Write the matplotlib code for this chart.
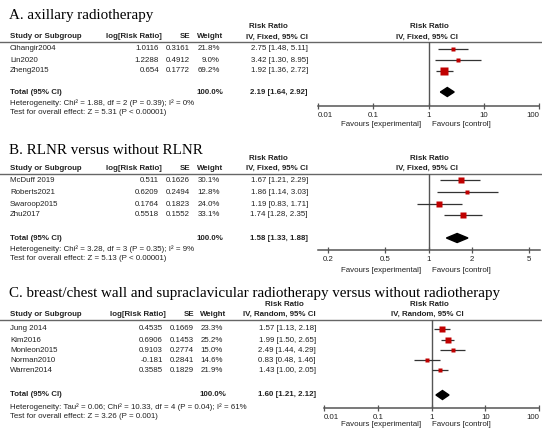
import numpy as np
import matplotlib
matplotlib.use("Agg")
import matplotlib.pyplot as plt
from matplotlib.ticker import NullLocator

# ---- data ----
a_studies = ["Cihangir2004", "Lin2020", "Zheng2015"]
a_logrr = [1.0116, 1.2288, 0.654]
a_se = [0.3161, 0.4912, 0.1772]
a_weight = [21.8, 9.0, 69.2]
a_rr = [2.75, 3.42, 1.92]
a_lo = [1.48, 1.30, 1.36]
a_hi = [5.11, 8.95, 2.72]
a_total = [2.19, 1.64, 2.92]
a_het = "Heterogeneity: Chi² = 1.88, df = 2 (P = 0.39); I² = 0%"
a_test = "Test for overall effect: Z = 5.31 (P < 0.00001)"

b_studies = ["McDuff 2019", "Roberts2021", "Swaroop2015", "Zhu2017"]
b_logrr = [0.511, 0.6209, 0.1764, 0.5518]
b_se = [0.1626, 0.2494, 0.1823, 0.1552]
b_weight = [30.1, 12.8, 24.0, 33.1]
b_rr = [1.67, 1.86, 1.19, 1.74]
b_lo = [1.21, 1.14, 0.83, 1.28]
b_hi = [2.29, 3.03, 1.71, 2.35]
b_total = [1.58, 1.33, 1.88]
b_het = "Heterogeneity: Chi² = 3.28, df = 3 (P = 0.35); I² = 9%"
b_test = "Test for overall effect: Z = 5.13 (P < 0.00001)"

c_studies = ["Jung 2014", "Kim2016", "Monleon2015", "Norman2010", "Warren2014"]
c_logrr = [0.4535, 0.6906, 0.9103, -0.181, 0.3585]
c_se = [0.1669, 0.1453, 0.2774, 0.2841, 0.1829]
c_weight = [23.3, 25.2, 15.0, 14.6, 21.9]
c_rr = [1.57, 1.99, 2.49, 0.83, 1.43]
c_lo = [1.13, 1.50, 1.44, 0.48, 1.00]
c_hi = [2.18, 2.65, 4.29, 1.46, 2.05]
c_total = [1.60, 1.21, 2.12]
c_het = "Heterogeneity: Tau² = 0.06; Chi² = 10.33, df = 4 (P = 0.04); I² = 61%"
c_test = "Test for overall effect: Z = 3.26 (P = 0.001)"

titles = ["A. axillary radiotherapy",
          "B. RLNR versus without RLNR",
          "C. breast/chest wall and supraclavicular radiotherapy versus without radiotherapy"]
methods = ["IV, Fixed, 95% CI", "IV, Fixed, 95% CI", "IV, Random, 95% CI"]
ticks_a = [0.01, 0.1, 1, 10, 100]
ticks_b = [0.2, 0.5, 1, 2, 5]
ticks_c = [0.01, 0.1, 1, 10, 100]

W, H = 542, 432
fig = plt.figure(figsize=(W / 100, H / 100), dpi=100)
bg = fig.add_axes([0, 0, 1, 1])
bg.set_xlim(0, W)
bg.set_ylim(H, 0)
bg.axis("off")

SANS = "Liberation Sans"
FS = 5.7
TXT = "#222222"
RED = "#c00000"
GREY = "#555555"


def t(x, y, s, ha="left", bold=False, size=FS):
    bg.text(x, y, s, ha=ha, va="center", fontsize=size, family=SANS,
            color=TXT, fontweight="bold" if bold else "normal")


def panel(lay, title, method, studies, logrr, se, weight, rr, lo, hi, total,
          het, test, ticks, xlim, shift_ends):
    bg.text(9, lay["title_y"], title, ha="left", va="center", fontsize=10.8,
            family="Liberation Serif", color="black")
    # table headers
    t(lay["rr_c"], lay["rr_y"], "Risk Ratio", ha="center", bold=True)
    t(429, lay["rr_y"], "Risk Ratio", ha="center", bold=True)
    t(10, lay["head_y"], "Study or Subgroup", bold=True)
    t(lay["lr_r"] + 3, lay["head_y"], "log[Risk Ratio]", ha="right", bold=True)
    t(lay["se_r"], lay["head_y"], "SE", ha="right", bold=True)
    t(lay["w_r"] + 3, lay["head_y"], "Weight", ha="right", bold=True)
    t(lay["ci_r"], lay["head_y"], method, ha="right", bold=True)
    t(427, lay["head_y"], method, ha="center", bold=True)
    bg.plot([0, W], [lay["line_y"], lay["line_y"]], color="#666666", lw=1.0)

    for i, y in enumerate(lay["rows"]):
        t(10, y, studies[i])
        t(lay["lr_r"], y, str(logrr[i]), ha="right")
        t(lay["se_r"], y, f"{se[i]:.4f}", ha="right")
        t(lay["w_r"], y, f"{weight[i]:.1f}%", ha="right")
        t(lay["ci_r"], y, f"{rr[i]:.2f} [{lo[i]:.2f}, {hi[i]:.2f}]", ha="right")
    t(10, lay["total_y"], "Total (95% CI)", bold=True)
    t(lay["w_r"] + 3, lay["total_y"], "100.0%", ha="right", bold=True)
    t(lay["ci_r"], lay["total_y"],
      f"{total[0]:.2f} [{total[1]:.2f}, {total[2]:.2f}]", ha="right", bold=True)
    t(10, lay["het_y"], het)
    t(10, lay["test_y"], test)

    # forest plot on a log axis
    x0, x1 = lay["x0"], lay["x1"]
    ytop, ybot = lay["line_y"], lay["axis_y"]
    ax = fig.add_axes([x0 / W, 1 - ybot / H, (x1 - x0) / W, (ybot - ytop) / H])
    ax.patch.set_visible(False)
    ax.set_xscale("log")
    ax.set_xlim(*xlim)
    ax.set_ylim(ybot, ytop)
    for s in ["top", "left", "right"]:
        ax.spines[s].set_visible(False)
    ax.spines["bottom"].set_color(GREY)
    ax.spines["bottom"].set_linewidth(1.1)
    ax.set_yticks([])
    ax.set_xticks(ticks)
    ax.set_xticklabels([f"{v:g}" for v in ticks])
    ax.xaxis.set_minor_locator(NullLocator())
    ax.tick_params(axis="x", direction="inout", length=5, width=0.9,
                   color=GREY, labelsize=FS, labelcolor=TXT, pad=1.5)
    labs = ax.get_xticklabels()
    for lab in labs:
        lab.set_family(SANS)
    if shift_ends:
        labs[0].set_ha("left")
        labs[-1].set_ha("right")
    ax.axvline(1, color=GREY, lw=1.0)
    for i, y in enumerate(lay["rows"]):
        ax.hlines(y, lo[i], hi[i], color="#333333", lw=0.9, clip_on=False)
        ax.plot(rr[i], y, marker="s", ms=np.sqrt(weight[i]) * 0.75,
                color=RED, mec="none", clip_on=False)
    yt = lay["total_y"]
    ax.fill([total[1], total[0], total[2], total[0]],
            [yt, yt - 4.5, yt, yt + 4.5], color="black", clip_on=False)
    t(421, lay["fav_y"], "Favours [experimental]", ha="right")
    t(432, lay["fav_y"], "Favours [control]", ha="left")


lay_a = dict(title_y=15, rr_y=27, head_y=37, line_y=42, rows=[49, 60, 71],
             total_y=92, het_y=103, test_y=113, axis_y=106, fav_y=124,
             x0=318, x1=539, ci_r=308, lr_r=159, se_r=190, w_r=220, rr_c=268)
lay_b = dict(title_y=150, rr_y=159, head_y=168, line_y=174,
             rows=[180, 192, 204, 215], total_y=238, het_y=249, test_y=259,
             axis_y=250, fav_y=270, x0=318, x1=540, ci_r=308, lr_r=159,
             se_r=190, w_r=220, rr_c=268)
lay_c = dict(title_y=294, rr_y=304, head_y=314, line_y=320,
             rows=[329, 340, 350, 360, 370], total_y=395, het_y=407,
             test_y=416, axis_y=408, fav_y=425, x0=324, x1=539, ci_r=316,
             lr_r=163, se_r=194, w_r=223, rr_c=284)

panel(lay_a, titles[0], methods[0], a_studies, a_logrr, a_se, a_weight,
      a_rr, a_lo, a_hi, a_total, a_het, a_test, ticks_a, (0.01, 100), True)
panel(lay_b, titles[1], methods[1], b_studies, b_logrr, b_se, b_weight,
      b_rr, b_lo, b_hi, b_total, b_het, b_test, ticks_b, (0.170, 5.96), False)
panel(lay_c, titles[2], methods[2], c_studies, c_logrr, c_se, c_weight,
      c_rr, c_lo, c_hi, c_total, c_het, c_test, ticks_c, (0.01, 100), True)

fig.savefig("out.png", dpi=100)
